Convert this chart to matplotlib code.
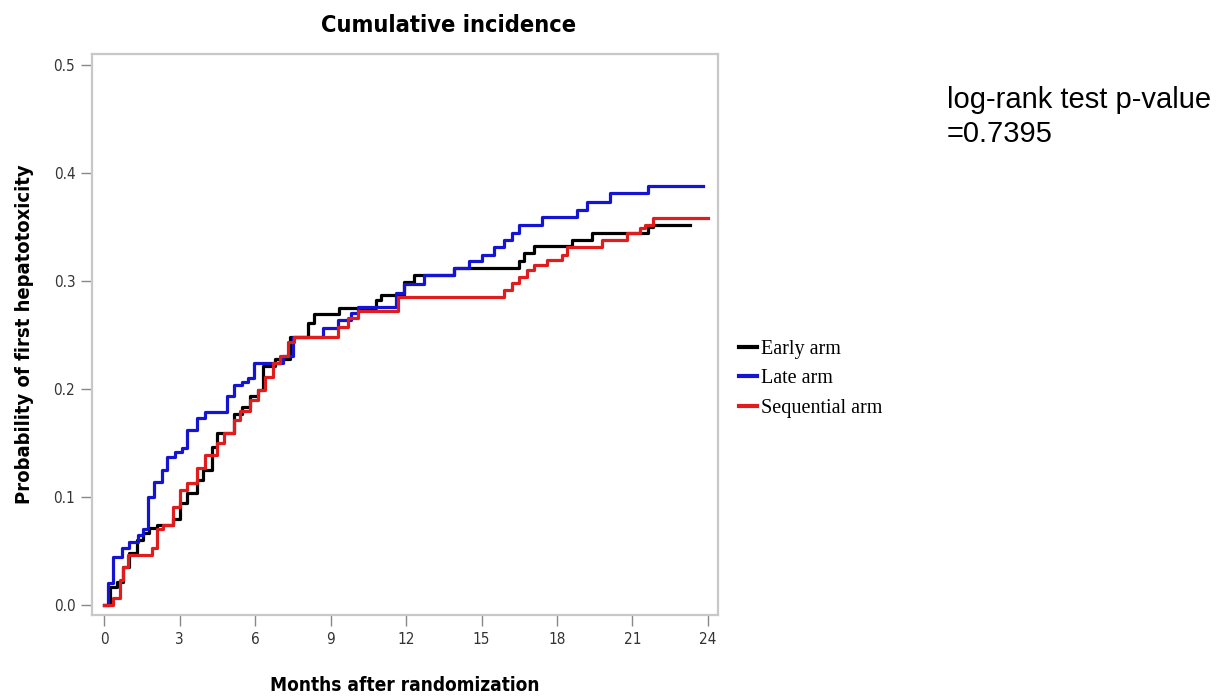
import matplotlib
matplotlib.use("Agg")
import matplotlib.pyplot as plt
from matplotlib.lines import Line2D

# Cumulative incidence step curves (months, probability) for each arm
early_t = [0, 0.25, 0.5, 0.75, 1.0, 1.3, 1.55, 1.8, 2.1, 2.75, 3.0, 3.3, 3.7, 3.95,
           4.3, 4.5, 5.15, 5.5, 5.8, 6.1, 6.3, 6.8, 7.4, 8.1, 8.35, 9.35, 10.8, 11.0,
           11.9, 12.3, 13.9, 16.5, 16.7, 17.1, 18.6, 19.4, 21.6, 21.8, 23.3]
early_p = [0, 0.017, 0.021, 0.035, 0.048, 0.060, 0.067, 0.071, 0.074, 0.080, 0.094,
           0.104, 0.116, 0.125, 0.146, 0.159, 0.177, 0.183, 0.193, 0.199, 0.221, 0.228,
           0.248, 0.261, 0.269, 0.275, 0.282, 0.287, 0.299, 0.305, 0.312, 0.318, 0.326,
           0.332, 0.338, 0.344, 0.350, 0.352, 0.352]

late_t = [0, 0.15, 0.36, 0.7, 1.0, 1.36, 1.55, 1.75, 2.0, 2.3, 2.5, 2.8, 3.1, 3.3, 3.7,
          4.0, 4.9, 5.15, 5.5, 5.7, 5.95, 7.1, 7.5, 8.7, 9.3, 9.8, 10.1, 11.6, 11.9,
          12.7, 13.9, 14.5, 15.0, 15.5, 15.9, 16.2, 16.5, 17.4, 18.8, 19.2, 20.1, 21.6,
          23.8]
late_p = [0, 0.020, 0.044, 0.053, 0.058, 0.065, 0.070, 0.100, 0.114, 0.125, 0.137,
          0.142, 0.145, 0.162, 0.173, 0.179, 0.193, 0.204, 0.206, 0.210, 0.224, 0.230,
          0.248, 0.256, 0.264, 0.270, 0.276, 0.289, 0.297, 0.305, 0.312, 0.318, 0.324,
          0.331, 0.338, 0.344, 0.352, 0.359, 0.366, 0.373, 0.381, 0.388, 0.388]

seq_t = [0, 0.37, 0.64, 0.76, 0.96, 1.9, 2.1, 2.35, 2.75, 3.03, 3.3, 3.7, 4.0, 4.5,
         4.75, 5.15, 5.4, 5.8, 6.1, 6.4, 6.7, 7.0, 7.3, 7.55, 9.3, 9.7, 10.1, 11.7,
         15.9, 16.2, 16.5, 16.8, 17.1, 17.6, 18.2, 18.4, 19.8, 20.8, 21.3, 21.5, 21.8,
         24.0]
seq_p = [0, 0.006, 0.023, 0.035, 0.046, 0.053, 0.070, 0.074, 0.091, 0.106, 0.113,
         0.127, 0.139, 0.150, 0.159, 0.171, 0.180, 0.190, 0.199, 0.211, 0.224, 0.230,
         0.243, 0.248, 0.257, 0.266, 0.272, 0.285, 0.292, 0.298, 0.304, 0.310, 0.315,
         0.319, 0.324, 0.331, 0.338, 0.344, 0.349, 0.352, 0.358, 0.358]

arm_labels = ["Early arm", "Late arm", "Sequential arm"]
arm_colors = ["#000000", "#1414d2", "#e01c1c"]
x_ticks = [0, 3, 6, 9, 12, 15, 18, 21, 24]
y_ticks = [0.0, 0.1, 0.2, 0.3, 0.4, 0.5]
p_value_text = "log-rank test p-value\n=0.7395"

narrow = dict(family="DejaVu Sans", stretch="condensed")

fig = plt.figure(figsize=(12.22, 6.98), dpi=100)
ax = fig.add_axes([0.0753, 0.1189, 0.5123, 0.8037])

curves = [(early_t, early_p), (late_t, late_p), (seq_t, seq_p)]
for (t, p), col in zip(curves, arm_colors):
    ax.step(t, p, where="post", color=col, lw=2.3)

ax.set_xlim(-0.48, 24.4)
ax.set_ylim(-0.0093, 0.510)
ax.set_xticks(x_ticks)
ax.set_yticks(y_ticks)
ax.set_xticklabels([str(v) for v in x_ticks], fontsize=11, color="#333333", **narrow)
ax.set_yticklabels([f"{v:.1f}" for v in y_ticks], fontsize=11, color="#333333", **narrow)
ax.tick_params(direction="out", length=8, width=1, color="#888888", pad=4)
for s in ax.spines.values():
    s.set_color("#c8c8c8")
    s.set_linewidth(1.6)

ax.set_xlabel("Months after randomization", fontsize=13.7, fontweight="bold",
              labelpad=21, **narrow)
ax.set_ylabel("Probability of first hepatotoxicity", fontsize=14.5, fontweight="bold",
              labelpad=14, **narrow)
fig.text(449 / 1222, 1 - 25 / 698, "Cumulative incidence", fontsize=16.9,
         fontweight="bold", ha="center", va="center", **narrow)

handles = [Line2D([0], [0], color=c, lw=3) for c in arm_colors]
fig.legend(handles, arm_labels, loc="upper left", bbox_to_anchor=(721 / 1222, 1 - 322 / 698),
           frameon=False, handlelength=0.9, handletextpad=0.2, labelspacing=0.5,
           prop={"family": "Liberation Serif", "size": 14.5})

fig.text(947 / 1222, 1 - 86 / 698, p_value_text, family="Liberation Sans",
         fontsize=21, ha="left", va="top", linespacing=1.25)

fig.savefig("out.png", dpi=100)
